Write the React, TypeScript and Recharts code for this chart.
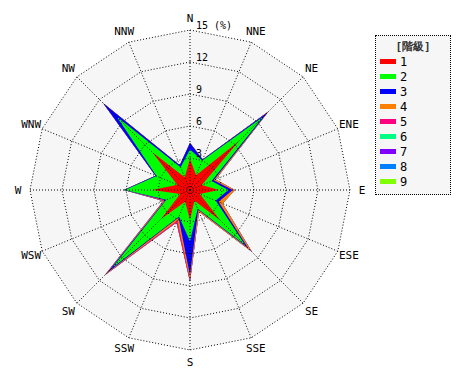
import React from 'react';
import { RadarChart, Radar, PolarGrid, PolarAngleAxis, PolarRadiusAxis } from 'recharts';

const directions = ['N', 'NNE', 'NE', 'ENE', 'E', 'ESE', 'SE', 'SSE', 'S', 'SSW', 'SW', 'WSW', 'W', 'WNW', 'NW', 'NNW'];

// frequency (%) of each class per direction
const class1 = [2.9, 1.5, 6.5, 1.2, 2.7, 1.0, 4.0, 1.1, 2.8, 1.2, 3.8, 1.0, 3.5, 1.3, 5.0, 1.3];
const class2 = [0.9, 1.5, 3.2, 1.0, 0.9, 1.6, 3.3, 0.8, 2.0, 1.5, 6.5, 1.4, 2.6, 2.1, 4.7, 1.0];
const class3 = [0.6, 0.1, 0.6, 0.2, 0.4, 0.3, 0.4, 0.1, 3.2, 0.1, 0.6, 0.1, 0.1, 0.1, 1.8, 0.2];
const class4 = [0, 0, 0.1, 0.2, 0.2, 0.4, 0.4, 0.2, 0.4, 0.3, 0.2, 0.1, 0, 0, 0, 0];
const class5 = [0, 0, 0, 0, 0, 0, 0.1, 0, 0.2, 0.2, 0.2, 0.1, 0, 0, 0, 0];
const class6 = [0, 0, 0, 0, 0, 0, 0, 0, 0, 0, 0, 0, 0, 0, 0, 0];
const class7 = [0, 0, 0, 0, 0, 0, 0, 0, 0, 0, 0, 0, 0, 0, 0, 0];
const class8 = [0, 0, 0, 0, 0, 0, 0, 0, 0, 0, 0, 0, 0, 0, 0, 0];
const class9 = [0, 0, 0, 0, 0, 0, 0, 0, 0, 0, 0, 0, 0, 0, 0, 0];

const classLabels = ['1', '2', '3', '4', '5', '6', '7', '8', '9'];
const classColors = ['#ff0000', '#00ff00', '#0000ff', '#ff8000', '#ff0080', '#00ff80', '#8000ff', '#0080ff', '#80ff00'];
const classValues = [class1, class2, class3, class4, class5, class6, class7, class8, class9];

// stacked (cumulative) values so each class ring sits on the previous one
const data = directions.map((dir, i) => {
  const row: Record<string, number | string> = { dir };
  let sum = 0;
  classValues.forEach((vals, k) => {
    sum += vals[i];
    row['c' + (k + 1)] = Math.round(sum * 100) / 100;
  });
  return row;
});

const CX = 182;
const CY = 182;
const R = 160;
const LABEL_R = 172;
const FONT = '"DejaVu Sans Mono", monospace';

const AngleTick = (props: any) => {
  const { x, y, payload } = props;
  const dx = x - CX;
  const dy = y - CY;
  const d = Math.hypot(dx, dy) || 1;
  return (
    <text
      x={CX + (dx * LABEL_R) / d}
      y={CY + (dy * LABEL_R) / d}
      textAnchor="middle"
      dominantBaseline="central"
      fontFamily={FONT}
      fontSize={11}
      fill="#000"
    >
      {payload.value}
    </text>
  );
};

const RadiusTick = (props: any) => {
  const { x, y, payload } = props;
  if (payload.value === 0) return <g />;
  return (
    <text x={x + 6} y={y - 1} fontFamily={FONT} fontSize={10} fill="#000">
      {payload.value === 15 ? '15 (%)' : payload.value}
    </text>
  );
};

export default function App() {
  return (
    <div style={{ position: 'relative', width: 454, height: 364, background: '#fff' }}>
      <RadarChart width={454} height={364} cx={CX} cy={CY} outerRadius={R} data={data}>
        <PolarGrid gridType="polygon" stroke="none" fill="#f6f6f6" />
        {[...classLabels].reverse().map((label) => {
          const k = classLabels.indexOf(label);
          return (
            <Radar
              key={label}
              dataKey={'c' + label}
              name={label}
              stroke="none"
              fill={classColors[k]}
              fillOpacity={1}
              dot={false}
              isAnimationActive={false}
            />
          );
        })}
        <PolarGrid gridType="polygon" stroke="#000" strokeDasharray="1 2" zIndex={1000} />
        <PolarAngleAxis dataKey="dir" tick={AngleTick} tickLine={false} axisLine={false} />
        <PolarRadiusAxis
          angle={90}
          type="number"
          domain={[0, 15]}
          tickCount={6}
          axisLine={false}
          tickLine={false}
          tick={RadiusTick}
        />
      </RadarChart>
      <div
        style={{
          position: 'absolute',
          left: 367,
          top: 27,
          width: 74,
          height: 158,
          border: '1px dotted #000',
          background: '#f6f6f6',
          fontFamily: FONT,
          fontSize: 11,
        }}
      >
        <div style={{ textAlign: 'center', marginTop: 3, color: '#333', fontWeight: 'bold' }}>[階級]</div>
        {classLabels.map((label, k) => (
          <div key={label} style={{ display: 'flex', alignItems: 'center', height: 15, marginLeft: 4 }}>
            <span style={{ display: 'inline-block', width: 16, height: 5, background: classColors[k], marginRight: 4 }} />
            <span style={{ fontSize: 12 }}>{label}</span>
          </div>
        ))}
      </div>
    </div>
  );
}
